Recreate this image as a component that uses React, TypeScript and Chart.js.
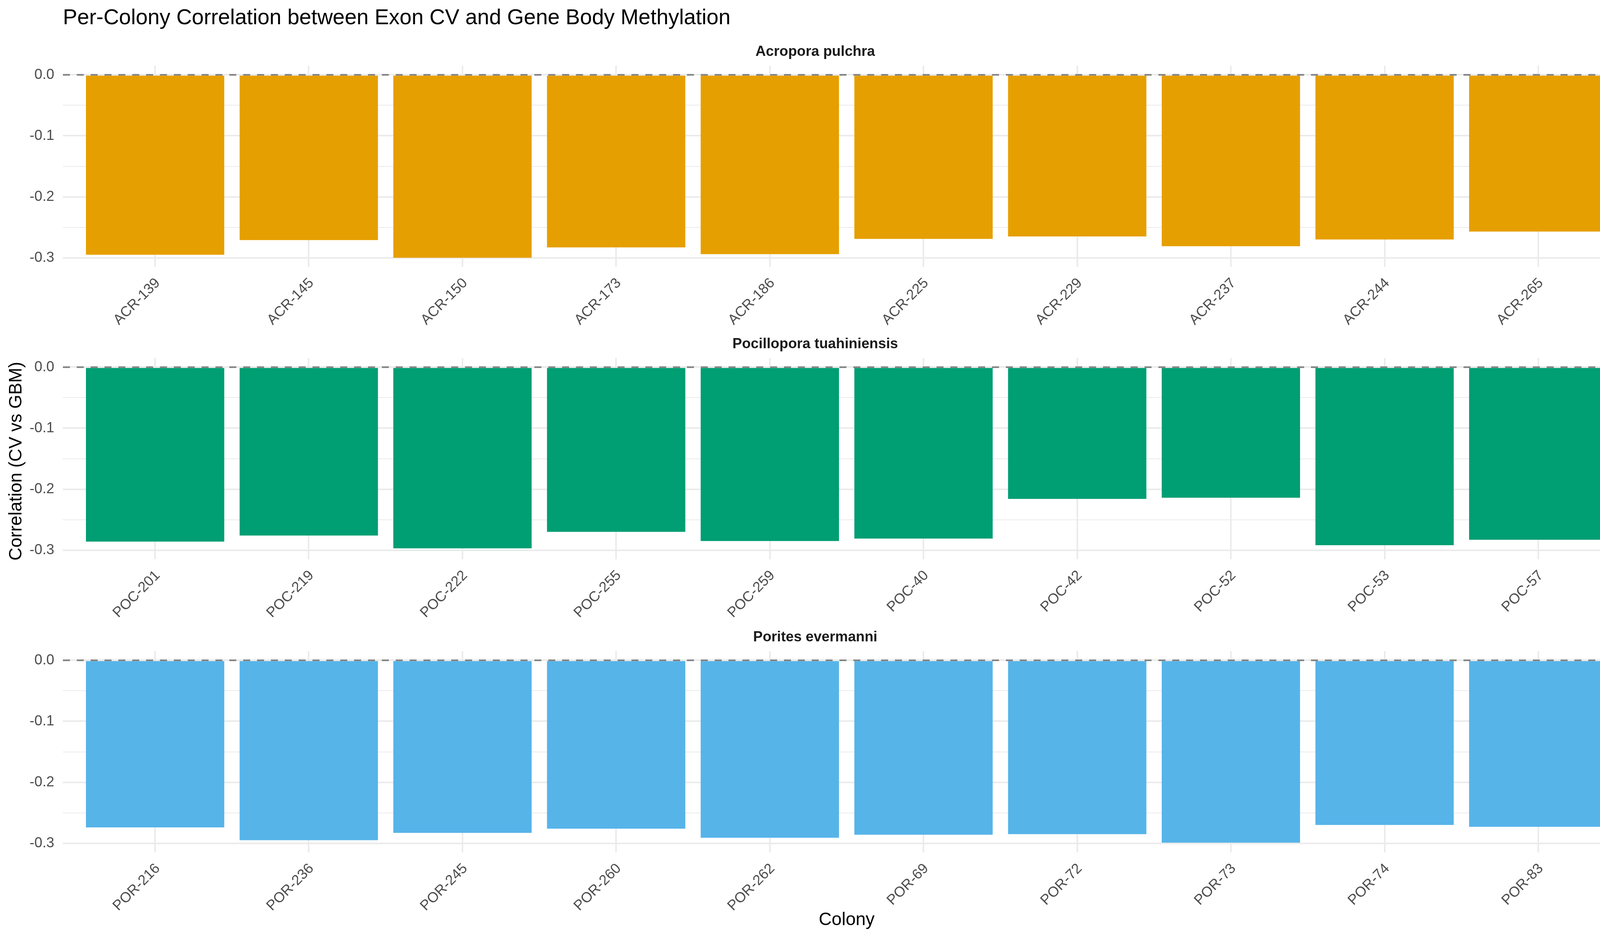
import React, { useEffect, useRef } from "react";
import { Chart, registerables } from "chart.js";

Chart.register(...registerables);

const FONT = "'Liberation Sans', Arial, Helvetica, sans-serif";

const acrColonies = ["ACR-139", "ACR-145", "ACR-150", "ACR-173", "ACR-186", "ACR-225", "ACR-229", "ACR-237", "ACR-244", "ACR-265"];
const acrValues = [-0.295, -0.271, -0.3, -0.283, -0.294, -0.269, -0.265, -0.281, -0.27, -0.257];

const pocColonies = ["POC-201", "POC-219", "POC-222", "POC-255", "POC-259", "POC-40", "POC-42", "POC-52", "POC-53", "POC-57"];
const pocValues = [-0.286, -0.276, -0.297, -0.27, -0.285, -0.281, -0.216, -0.214, -0.292, -0.283];

const porColonies = ["POR-216", "POR-236", "POR-245", "POR-260", "POR-262", "POR-69", "POR-72", "POR-73", "POR-74", "POR-83"];
const porValues = [-0.274, -0.295, -0.283, -0.276, -0.291, -0.286, -0.285, -0.299, -0.27, -0.273];

const speciesNames = ["Acropora pulchra", "Pocillopora tuahiniensis", "Porites evermanni"];
const speciesColors = ["#E69F00", "#009E73", "#56B4E9"];

const Y_MIN = -0.315;
const Y_MAX = 0.015;

const zeroLine = {
  id: "zeroLine",
  afterDatasetsDraw(chart: any) {
    const { ctx, chartArea, scales } = chart;
    const y = scales.y.getPixelForValue(0);
    ctx.save();
    ctx.strokeStyle = "#7f7f7f";
    ctx.lineWidth = 4;
    ctx.setLineDash([18, 17.5]);
    ctx.beginPath();
    ctx.moveTo(chartArea.left, y);
    ctx.lineTo(chartArea.right, y);
    ctx.stroke();
    ctx.restore();
  },
};

function isMajor(v: number) {
  return Math.abs(Math.round(v * 100)) % 10 === 0;
}

function Panel(props: { top: number; title: string; cats: string[]; values: number[]; color: string }) {
  const ref = useRef<HTMLCanvasElement | null>(null);
  useEffect(() => {
    if (!ref.current) return;
    const { cats, values, color, title } = props;
    const chart = new Chart(ref.current, {
      type: "bar",
      data: {
        datasets: [
          {
            data: values.map((v, i) => ({ x: i + 1, y: v })),
            backgroundColor: color,
            borderWidth: 0,
            barPercentage: 0.9,
            categoryPercentage: 1,
          } as any,
        ],
      },
      options: {
        animation: false,
        responsive: false,
        devicePixelRatio: 1,
        layout: { padding: { left: 0, right: 26, top: 0, bottom: 0 } },
        plugins: {
          legend: { display: false },
          tooltip: { enabled: false },
          title: {
            display: true,
            text: title,
            color: "#1a1a1a",
            font: { family: FONT, size: 36.7, weight: "bold" },
            padding: { top: 18, bottom: 13 },
          },
        },
        scales: {
          x: {
            type: "linear",
            min: 0.4,
            max: 10.6,
            offset: false,
            grid: { color: "#ebebeb", lineWidth: 4, drawTicks: false, offset: false },
            border: { display: false },
            ticks: {
              stepSize: 1,
              includeBounds: false,
              autoSkip: false,
              maxRotation: 45,
              minRotation: 45,
              padding: 20,
              labelOffset: 7,
              color: "#4d4d4d",
              font: { family: FONT, size: 36.7 },
              callback: (v: any) => cats[Math.round(Number(v)) - 1] ?? "",
            },
            afterFit: (s: any) => {
              s.height = 160;
            },
          },
          y: {
            min: Y_MIN,
            max: Y_MAX,
            grid: {
              color: "#ebebeb",
              lineWidth: (c: any) => (c.tick && isMajor(c.tick.value) ? 4 : 2),
              drawTicks: false,
            },
            border: { display: false },
            ticks: {
              stepSize: 0.05,
              includeBounds: false,
              padding: 22,
              color: "#4d4d4d",
              font: { family: FONT, size: 36.7 },
              callback: (v: any) => {
                const n = Number(v);
                if (!isMajor(n)) return "";
                if (Math.abs(n) < 1e-9) return "0.0";
                return n.toFixed(1);
              },
            },
            afterFit: (s: any) => {
              s.width = 161;
            },
          },
        },
      } as any,
      plugins: [zeroLine],
    });
    return () => chart.destroy();
  }, []);
  return (
    <canvas
      ref={ref}
      width={4200}
      height={750}
      style={{ position: "absolute", left: 0, top: props.top - 75, width: 4200, height: 750 }}
    />
  );
}

export default function App() {
  const tops = [168, 916, 1666];
  const cats = [acrColonies, pocColonies, porColonies];
  const vals = [acrValues, pocValues, porValues];
  return (
    <div
      style={{
        position: "absolute",
        left: 0,
        top: 0,
        width: 4200,
        height: 2400,
        background: "#ffffff",
        fontFamily: FONT,
        overflow: "hidden",
      }}
    >
      <div
        style={{
          position: "absolute",
          left: 161,
          top: 16,
          fontSize: 55,
          lineHeight: "55px",
          color: "#000000",
          whiteSpace: "nowrap",
        }}
      >
        Per-Colony Correlation between Exon CV and Gene Body Methylation
      </div>
      {tops.map((t, i) => (
        <Panel key={i} top={t} title={speciesNames[i]} cats={cats[i]} values={vals[i]} color={speciesColors[i]} />
      ))}
      <div
        style={{
          position: "absolute",
          left: 39 - 1000,
          top: 1180 - 23,
          width: 2000,
          height: 46,
          fontSize: 46,
          lineHeight: "46px",
          textAlign: "center",
          color: "#000000",
          transform: "rotate(-90deg)",
          transformOrigin: "center center",
          whiteSpace: "nowrap",
        }}
      >
        Correlation (CV vs GBM)
      </div>
      <div
        style={{
          position: "absolute",
          left: 161,
          width: 4013,
          top: 2328,
          fontSize: 46,
          lineHeight: "46px",
          textAlign: "center",
          color: "#000000",
          whiteSpace: "nowrap",
        }}
      >
        Colony
      </div>
    </div>
  );
}
